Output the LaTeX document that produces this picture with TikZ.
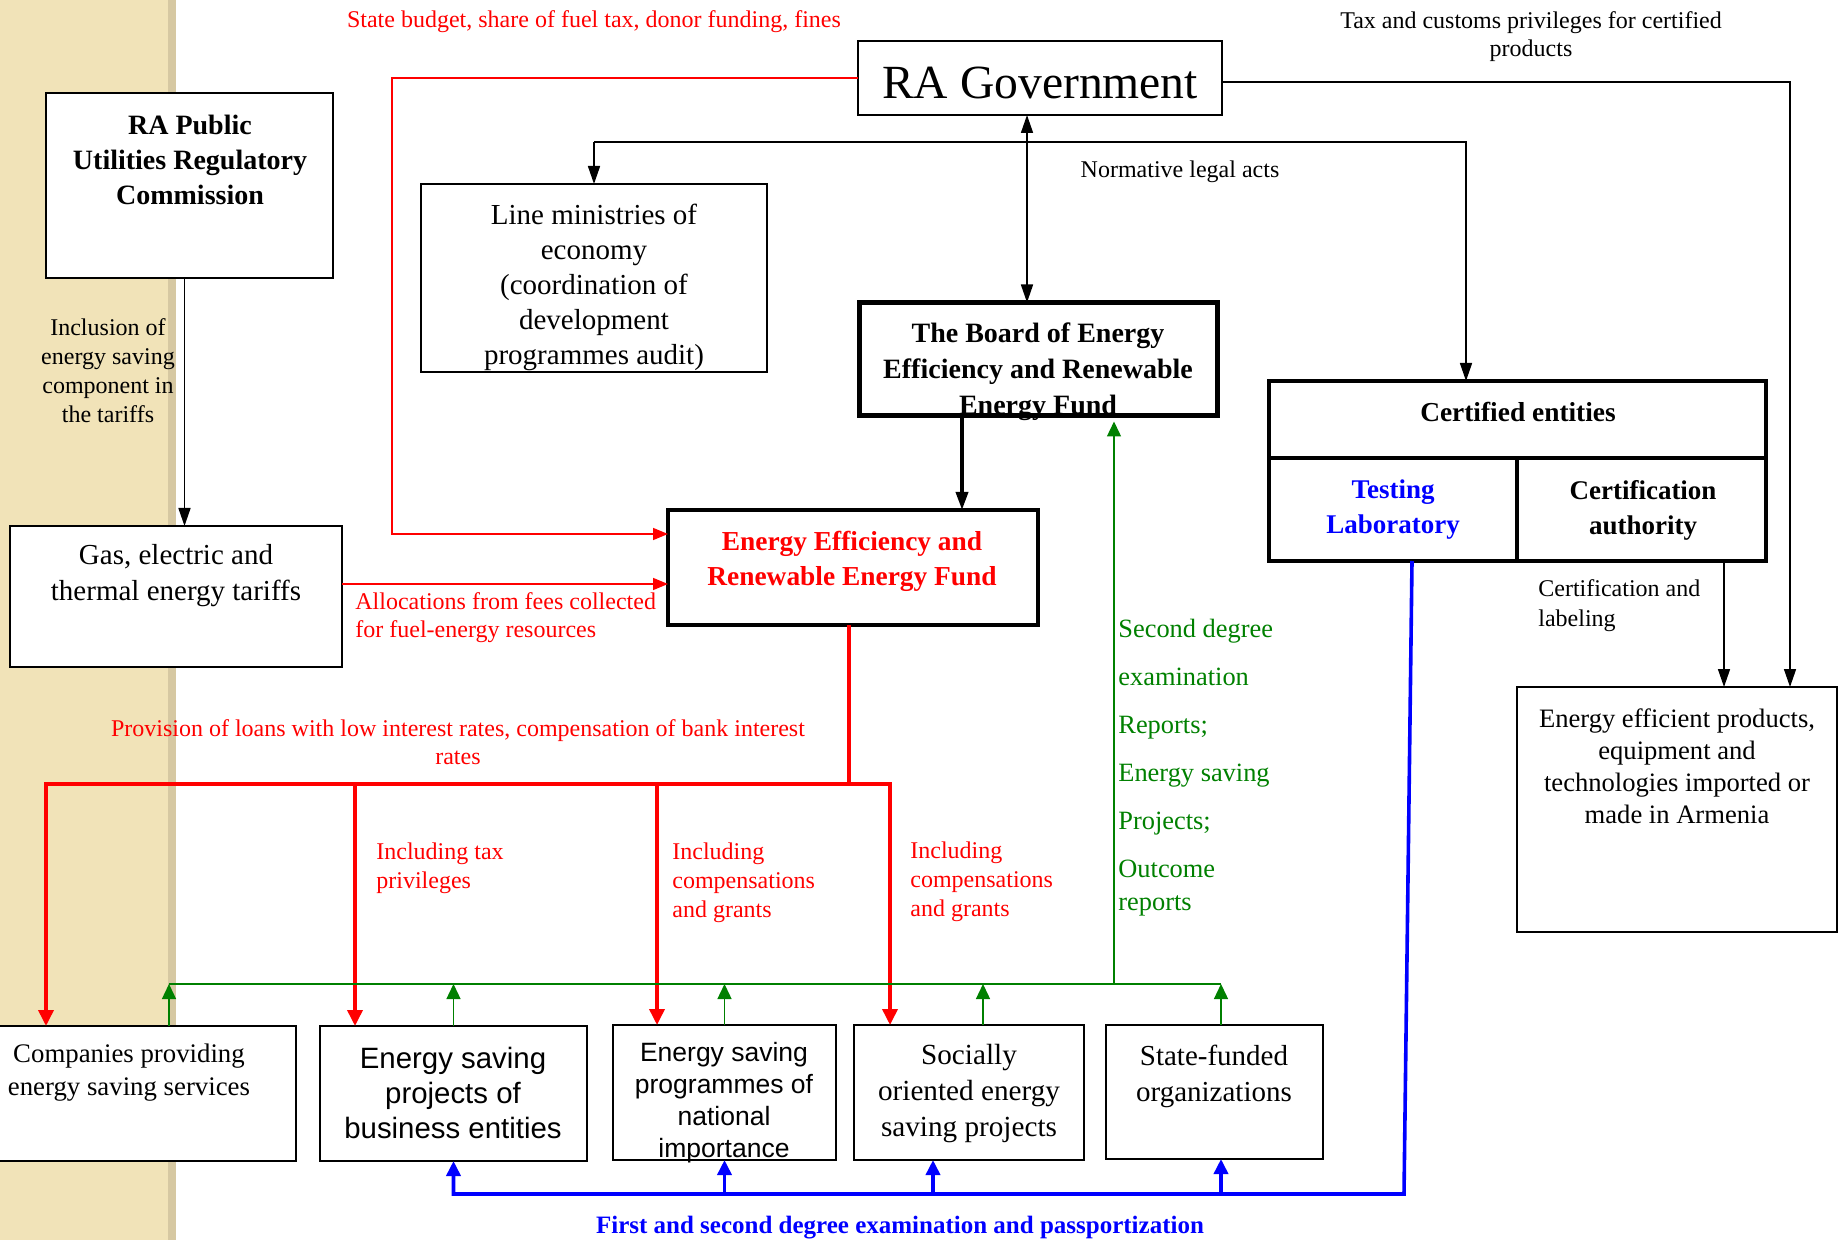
\documentclass[tikz,border=0pt]{standalone}
\usepackage{fontspec}
\setmainfont{Liberation Serif}
\setsansfont{Liberation Sans}
\usetikzlibrary{arrows.meta}
\definecolor{strip}{RGB}{241,227,184}
\definecolor{stripedge}{RGB}{214,200,162}
\definecolor{grn}{RGB}{0,128,0}
\tikzset{
  box/.style={draw, fill=white, line width=1.2pt, inner sep=0pt, outer sep=0pt},
  thickbox/.style={box, line width=2.5pt},
  txt/.style={align=center, inner sep=0pt},
  fs/.style 2 args={txt, font=\fontsize{#1pt}{#2pt}\selectfont},
  fsb/.style 2 args={txt, font=\fontsize{#1pt}{#2pt}\selectfont\bfseries},
  fss/.style 2 args={txt, font=\fontsize{#1pt}{#2pt}\selectfont\sffamily},
  ktip/.tip={Triangle[length=9pt,width=6pt]},
  rtip/.tip={Triangle[length=7.5pt,width=6pt]},
  rtipb/.tip={Triangle[length=8pt,width=7.5pt]},
  gtip/.tip={Triangle[length=7.5pt,width=7pt]},
  btip/.tip={Triangle[length=7.5pt,width=7pt]},
  kline/.style={draw=black, line width=0.8pt},
  kthick/.style={draw=black, line width=1.8pt},
  rthin/.style={draw=red, line width=0.8pt},
  rthick/.style={draw=red, line width=1.8pt},
  gline/.style={draw=grn, line width=0.7pt},
  bline/.style={draw=blue, line width=1.8pt}
}
\begin{document}
\begin{tikzpicture}[x=0.5pt,y=-0.5pt]
    \useasboundingbox (0,0) rectangle (1841,1240);
    \clip (0,0) rectangle (1841,1240);
    \fill[strip] (0,0) rectangle (176,1240);
    \fill[stripedge] (168,0) rectangle (176,1240);

    % boxes
    \node[box, minimum width=182pt, minimum height=37pt] (gov) at (1040,78) {};
    \node[box, minimum width=143.5pt, minimum height=92.5pt] (reg) at (189.5,185.5) {};
    \node[box, minimum width=173pt, minimum height=94pt] (mins) at (594,278) {};
    \node[thickbox, minimum width=179pt, minimum height=56.5pt] (board) at (1038.5,359) {};
    \node[thickbox, line width=2pt, minimum width=185pt, minimum height=57.5pt] (fund) at (853,567.5) {};
    \node[box, minimum width=166pt, minimum height=70.5pt] (gas) at (176,596.5) {};
    \node[thickbox, line width=2pt, minimum width=248.5pt, minimum height=38.5pt] (certtop) at (1517.5,419.5) {};
    \node[thickbox, line width=2pt, minimum width=124pt, minimum height=51.5pt] (lab) at (1393,509.5) {};
    \node[thickbox, line width=2pt, minimum width=124.5pt, minimum height=51.5pt] (auth) at (1641.5,509.5) {};
    \node[box, minimum width=160pt, minimum height=122.5pt] (prod) at (1677,809.5) {};
    \node[box, minimum width=168pt, minimum height=67.5pt] (comp) at (128,1093.5) {};
    \node[box, minimum width=133.5pt, minimum height=67.5pt] (esp) at (453.5,1093.5) {};
    \node[box, minimum width=111.5pt, minimum height=67.5pt] (prog) at (724.5,1092.5) {};
    \node[box, minimum width=115pt, minimum height=67.5pt] (soc) at (969,1092.5) {};
    \node[box, minimum width=108.5pt, minimum height=67pt] (state) at (1214.5,1092) {};

    % box texts
    \node[fs={23.8}{28}] (govtxt) at (1040,83) {RA Government};
    \node[fsb={14}{17.5}] (regtxt) at (190,160) {RA Public\\Utilities Regulatory\\Commission};
    \node[fs={14.5}{17.5}] (minstxt) at (594,287) {Line ministries of\\economy\\(coordination of\\development\\programmes audit)};
    \node[fsb={14}{18}] (boardtxt) at (1038,372) {The Board of Energy\\Efficiency and Renewable\\Energy Fund};
    \node[fsb={13.7}{17.5}, text=red] (fundtxt) at (852,561) {Energy Efficiency and\\Renewable Energy Fund};
    \node[fs={14.5}{18}] (gastxt) at (176,576) {Gas, electric and\\thermal energy tariffs};
    \node[fsb={13.7}{17}] (certtxt) at (1518,412) {Certified entities};
    \node[fsb={13.5}{17.5}, text=blue] (labtxt) at (1393,510) {Testing\\Laboratory};
    \node[fsb={13.5}{17.5}] (authtxt) at (1643,510) {Certification\\authority};
    \node[fs={13.3}{16}] (prodtxt) at (1677,766) {Energy efficient products,\\equipment and\\technologies imported or\\made in Armenia};
    \node[fs={13.4}{16.5}] (comptxt) at (129,1073) {Companies providing\\energy saving services};
    \node[fss={14.7}{17.5}] (esptxt) at (453,1093) {Energy saving\\projects of\\business entities};
    \node[fss={13.25}{16}] (progtxt) at (724,1103) {Energy saving\\programmes of\\national\\importance};
    \node[fs={14.6}{18}] (soctxt) at (969,1094) {Socially\\oriented energy\\saving projects};
    \node[fs={14.5}{18}] (statetxt) at (1214,1076) {State-funded\\organizations};

    % government links
    \coordinate (normL) at (594,142);
    \coordinate (normR) at (1466,142);
    \coordinate (taxC) at (1790,82);
    \draw[kline, ktip-ktip] ([xshift=-6.5pt]gov.south) -- ([xshift=-6.5pt]gov.south |- board.north);
    \draw[kline, -ktip] (mins.north |- normL) -- (normR) -- (normR |- certtop.north);
    \draw[kline, -ktip] (normL) -- (mins.north);
    \draw[kline, -ktip] ([yshift=-2pt]gov.east) -- (taxC) -- (taxC |- prod.north);
    \node[fs={12}{14}] (normtxt) at (1180,172) {Normative legal acts};
    \node[fs={12}{14}] (taxtxt) at (1531,37) {Tax and customs privileges for certified\\products};

    % funding in
    \coordinate (budC) at (392,78);
    \coordinate (budD) at (392,534);
    \draw[rthin, -rtip] (gov.west) -- (budC) -- (budD) -- (budD -| fund.west);
    \node[fs={12}{14}, text=red] (budtxt) at (594,22) {State budget, share of fuel tax, donor funding, fines};
    \draw[kline, -ktip] ([xshift=-2.5pt]reg.south) -- ([xshift=-2.5pt]reg.south |- gas.north);
    \node[fs={12}{14.5}] (incltxt) at (108,371) {Inclusion of\\energy saving\\component in\\the tariffs};
    \draw[rthin, -rtip] ([yshift=6.25pt]gas.east) -- ([yshift=6.25pt]gas.east -| fund.west);
    \node[fs={12}{14}, text=red, anchor=west, align=left] (alloctxt) at (355,618) {Allocations from fees collected\\for fuel-energy resources};
    \coordinate (bf) at (962,460);
    \draw[kthick, -ktip] (bf |- board.south) -- (bf |- fund.north);

    % funding out
    \coordinate (split) at (849,784);
    \coordinate (r1) at (46,784);
    \coordinate (r2) at (355,784);
    \coordinate (r3) at (657,784);
    \coordinate (r4) at (890,784);
    \draw[rthick] (split |- fund.south) -- (split);
    \draw[rthick, rtipb-rtipb] (r1 |- comp.north) -- (r1) -- (r4) -- (r4 |- soc.north);
    \draw[rthick, -rtipb] (r2) -- (r2 |- esp.north);
    \draw[rthick, -rtipb] (r3) -- (r3 |- prog.north);
    \node[fs={12}{14}, text=red] (provtxt) at (458,742) {Provision of loans with low interest rates, compensation of bank interest\\rates};
    \node[fs={12}{14.5}, text=red, anchor=west, align=left] (incl1) at (376,868) {Including tax\\privileges};
    \node[fs={12}{14.5}, text=red, anchor=west, align=left] (incl2) at (672,883) {Including\\compensations\\and grants};
    \node[fs={12}{14.5}, text=red, anchor=west, align=left] (incl3) at (910,882) {Including\\compensations\\and grants};

    % reports back
    \coordinate (gL) at (169,984);
    \coordinate (g4) at (983,984);
    \coordinate (gUp) at (1114,984);
    \coordinate (gR) at (1221,984);
    \draw[gline] (gL) -- (gR);
    \draw[gline, -gtip] (gL |- comp.north) -- (gL);
    \draw[gline, -gtip] (esp.north) -- (esp.north |- gL);
    \draw[gline, -gtip] (prog.north) -- (prog.north |- gL);
    \draw[gline, -gtip] (g4 |- soc.north) -- (g4);
    \draw[gline, -gtip] (gR |- state.north) -- (gR);
    \draw[gline, -gtip, shorten >=3pt] (gUp) -- (gUp |- board.south);
    \node[fs={13.2}{24}, text=grn, anchor=west, align=left] (reptxt) at (1118,768) {Second degree\\examination\\Reports;\\Energy saving\\Projects;\\Outcome\\[-7.5pt]reports};

    % examination
    \coordinate (bC) at (1404,1194);
    \coordinate (b3) at (933,1194);
    \draw[bline, btip-] (esp.south) -- (esp.south |- bC) -- (bC) -- ([xshift=9.5pt]lab.south);
    \draw[bline, -btip] (prog.south |- bC) -- (prog.south);
    \draw[bline, -btip] (b3) -- (b3 |- soc.south);
    \draw[bline, -btip] (gR |- bC) -- (gR |- state.south);
    \node[fsb={12.5}{15}, text=blue] (examtxt) at (900,1228) {First and second degree examination and passportization};

    % certification
    \coordinate (cl) at (1724,600);
    \draw[kline, -ktip] (cl |- auth.south) -- (cl |- prod.north);
    \node[fs={12}{15}, anchor=west, align=left] (labeltxt) at (1538,606) {Certification and\\labeling};
\end{tikzpicture}
\end{document}
